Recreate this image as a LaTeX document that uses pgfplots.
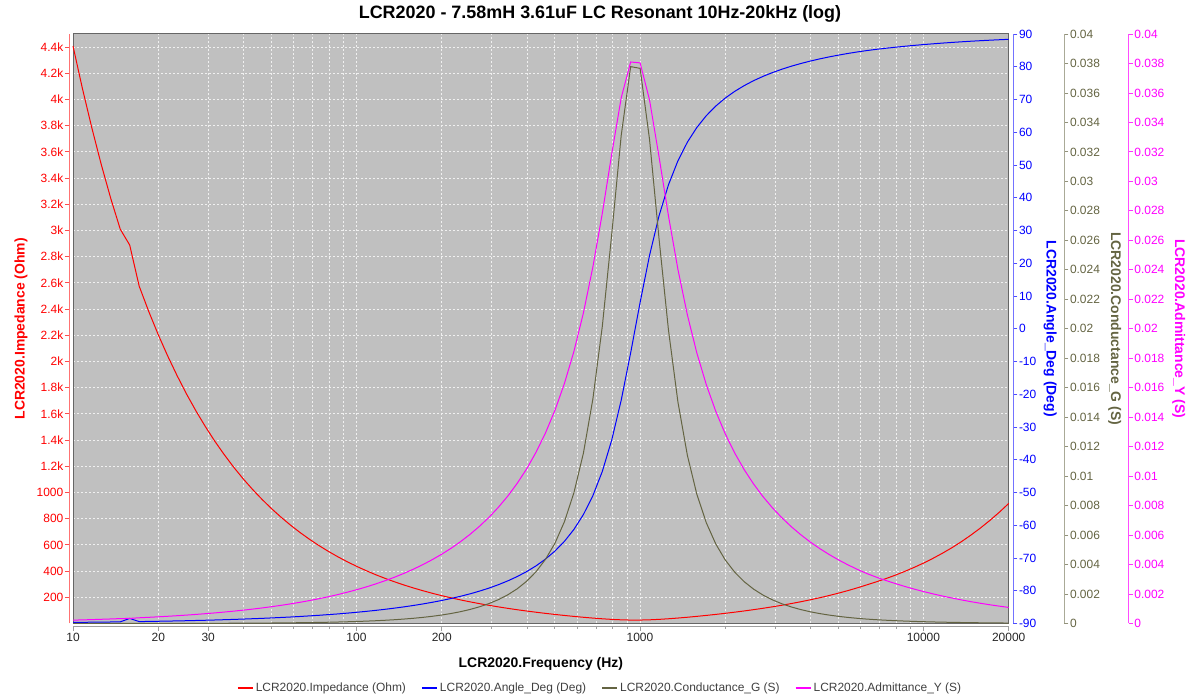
\documentclass[border=0pt]{standalone}
\usepackage{pgfplots}
\pgfplotsset{compat=1.18}
\usepackage{pgfplotstable}
\usepackage{fontspec}
\setmainfont{Liberation Sans}

\definecolor{zred}{RGB}{255,0,0}
\definecolor{ablue}{RGB}{0,0,255}
\definecolor{golive}{RGB}{100,100,66}
\definecolor{ymag}{RGB}{255,0,255}
\definecolor{plotbg}{RGB}{192,192,192}

\pgfplotstableread{
f Z A G Y
10 4408 -89.66 0.0000013 0.000227
10.80 4082 -89.63 0.0000016 0.000245
11.66 3781 -89.61 0.0000018 0.000264
12.59 3501 -89.57 0.0000021 0.000286
13.60 3242 -89.54 0.0000025 0.000308
14.68 3010 -89.50 0.0000029 0.000332
15.85 2889 -88.45 0.0000097 0.000346
17.12 2575 -89.42 0.0000039 0.000388
18.48 2385 -89.37 0.0000046 0.000419
19.96 2208 -89.32 0.0000053 0.000453
21.55 2045 -89.27 0.0000062 0.000489
23.27 1894 -89.21 0.0000073 0.000528
25.13 1753 -89.15 0.0000085 0.000570
27.13 1624 -89.08 0.0000099 0.000616
29.30 1503.5 -89.01 0.0000115 0.000665
31.63 1392.2 -88.93 0.0000134 0.000718
34.16 1289 -88.84 0.0000157 0.000776
36.88 1193.5 -88.75 0.0000183 0.000838
39.83 1105.0 -88.65 0.0000213 0.000905
43.01 1023 -88.54 0.0000249 0.000977
46.44 947.5 -88.43 0.0000290 0.001055
50.14 877.2 -88.30 0.0000338 0.001140
54.15 812.1 -88.16 0.0000395 0.001231
58.47 751.7 -88.02 0.0000461 0.001330
63.13 695.8 -87.86 0.0000538 0.001437
68.17 644.0 -87.68 0.0000628 0.001553
73.61 596.0 -87.50 0.0000733 0.001678
79.48 551.5 -87.29 0.0000856 0.001813
85.83 510.2 -87.08 0.0001000 0.001960
92.68 472.0 -86.84 0.0001168 0.002119
100.07 436.6 -86.58 0.0001366 0.002291
108.1 403.7 -86.30 0.0001597 0.002477
116.68 373.2 -86.00 0.0001869 0.002680
125.99 344.9 -85.67 0.0002188 0.002899
136.1 318.6 -85.31 0.0002564 0.003138
146.90 294.3 -84.93 0.0003006 0.003398
158.63 271.6 -84.50 0.0003528 0.003682
171.3 250.6 -84.04 0.0004145 0.003990
184.95 231.0 -83.53 0.0004877 0.004328
199.71 212.8 -82.98 0.0005746 0.004698
215.7 195.9 -82.36 0.0006782 0.005104
232.86 180.1 -81.69 0.0008022 0.005552
251.4 165.4 -80.95 0.0009513 0.006045
271.51 151.7 -80.12 0.0011311 0.006592
293.2 138.9 -79.20 0.0013496 0.007200
316.57 126.9 -78.16 0.0016167 0.007881
341.8 115.7 -76.99 0.0019456 0.008645
369.11 105.1 -75.67 0.0023551 0.009512
398.6 95.27 -74.14 0.0028682 0.010497
430.4 85.98 -72.38 0.0035215 0.011631
464.7 77.25 -70.31 0.0043617 0.012945
501.8 69.06 -67.85 0.0054586 0.014481
541.8 61.36 -64.90 0.0069148 0.016298
585.1 54.15 -61.27 0.0088767 0.018467
631.8 47.46 -56.74 0.011554 0.021069
682.2 41.35 -50.99 0.015223 0.024183
736.7 35.93 -43.57 0.020166 0.027833
795.4 31.39 -33.98 0.026418 0.031857
858.9 28.04 -21.82 0.033111 0.035666
927.5 26.25 -7.36 0.037787 0.038101
1001.4 26.29 8.03 0.037668 0.038040
1081.4 28.16 22.42 0.032832 0.035515
1167.6 31.56 34.44 0.026130 0.031683
1260.8 36.15 43.94 0.019922 0.027664
1361.4 41.61 51.27 0.015038 0.024035
1470.1 47.75 56.96 0.011418 0.020944
1587.4 54.46 61.44 0.0087782 0.018364
1714.0 61.67 65.04 0.0068435 0.016214
1850.8 69.40 67.97 0.0054054 0.014410
1998.5 77.62 70.41 0.0043206 0.012884
2158.0 86.37 72.46 0.0034897 0.011579
2330.2 95.67 74.21 0.0028440 0.010453
2516.2 105.6 75.73 0.0023352 0.0094714
2717.0 116.1 77.05 0.0019302 0.0086110
2933.9 127.4 78.21 0.0016040 0.0078500
3167.9 139.4 79.24 0.0013393 0.0071731
3420.7 152.3 80.16 0.0011226 0.0065673
3693.7 166.0 80.98 0.00094421 0.0060227
3988.5 180.8 81.72 0.00079634 0.0055310
4307.0 196.6 82.39 0.00067331 0.0050860
4650.4 213.6 83.00 0.00057051 0.0046816
5021.5 231.9 83.55 0.00048425 0.0043132
5422.3 251.5 84.06 0.00041162 0.0039766
5855.0 272.6 84.52 0.00035035 0.0036687
6322.5 295.3 84.94 0.0002985 0.0033864
6826.9 318.1 85.31 0.0002572 0.0031434
7371.5 342.6 85.64 0.0002218 0.0029190
7959.9 368.8 85.95 0.00019138 0.0027115
8595.2 397.6 86.25 0.00016466 0.0025152
9280.9 428.5 86.52 0.00014178 0.0023339
10021 461.7 86.77 0.00012212 0.0021660
10821 497.9 87.00 0.0001050 0.0020084
11685 536.9 87.22 0.0000903 0.0018627
12617 578.8 87.42 0.0000777 0.0017278
13624 625.0 87.61 0.0000666 0.0016001
14711 674.8 87.79 0.0000572 0.0014819
15885 728.5 87.95 0.0000490 0.0013726
17153 786.5 88.10 0.0000421 0.0012715
18522 849.0 88.24 0.0000361 0.0011778
20000 916.4 88.37 0.0000310 0.0010912
}\data

\tikzset{
  myticks/.style={font=\fontsize{12}{14}\selectfont},
  mylbl/.style={font=\bfseries\fontsize{14}{16}\selectfont},
}

\begin{document}
\begin{tikzpicture}
\path[use as bounding box] (0,0) rectangle (1200bp,700bp);

% main axis: background, grid, impedance
\begin{axis}[scale only axis, width=935.7bp, height=589.5bp,
  xmode=log, xmin=10, xmax=20000, at={(73bp,76.5bp)}, anchor=south west,
  ymin=0, ymax=4500, clip=false,
  axis background/.style={fill=plotbg},
  axis line style={draw=gray!80!black, line width=1bp},
  xtick={20,30,40,50,60,70,80,90,100,200,300,400,500,600,700,800,900,1000,2000,3000,4000,5000,6000,7000,8000,9000,10000},
  ytick={200,400,...,4400},
  xticklabels={}, yticklabels={},
  major tick length=0,
  grid=major,
  grid style={white!88!gray, dash pattern=on 2bp off 2bp, line width=0.8bp},
  title={LCR2020 - 7.58mH 3.61uF LC Resonant 10Hz-20kHz (log)},
  title style={at={(axis description cs:0.5632,1.0255)}, anchor=base, yshift=-6pt,
    font=\bfseries\fontsize{18}{21}\selectfont},
  xlabel={LCR2020.Frequency (Hz)},
  xlabel style={at={(axis description cs:0.5,-0.0738)}, anchor=base, mylbl},
  legend columns=4,
  legend style={draw=none, fill=none, text=black!75,
    font=\fontsize{12}{14}\selectfont,
    at={(axis description cs:0.5632,-0.1094)}, anchor=center,
    /tikz/every even column/.append style={column sep=13bp}},
  legend image code/.code={\draw[#1, line width=2bp] (0bp,0bp) -- (15bp,0bp);},
]
\addplot[zred, line width=1bp] table[x=f, y=Z]{\data};
\addlegendentry{LCR2020.Impedance (Ohm)}
\addlegendimage{ablue, line width=1bp}
\addlegendentry{LCR2020.Angle\_Deg (Deg)}
\addlegendimage{golive, line width=1bp}
\addlegendentry{LCR2020.Conductance\_G (S)}
\addlegendimage{ymag, line width=1bp}
\addlegendentry{LCR2020.Admittance\_Y (S)}
\node[rotate=90, mylbl, text=zred] at (axis description cs:-0.0556,0.5) {LCR2020.Impedance (Ohm)};
\node[rotate=-90, mylbl, text=ablue] at (axis description cs:1.0442,0.5) {LCR2020.Angle\_Deg (Deg)};
\node[rotate=-90, mylbl, text=golive] at (axis description cs:1.1133,0.5) {LCR2020.Conductance\_G (S)};
\node[rotate=-90, mylbl, text=ymag] at (axis description cs:1.1816,0.5) {LCR2020.Admittance\_Y (S)};
\end{axis}

% angle overlay
\begin{axis}[scale only axis, width=935.7bp, height=589.5bp,
  xmode=log, xmin=10, xmax=20000, at={(73bp,76.5bp)}, anchor=south west,
  ymin=-90, ymax=90, hide axis]
\addplot[ablue, line width=1bp] table[x=f, y=A]{\data};
\end{axis}

% conductance / admittance overlay
\begin{axis}[scale only axis, width=935.7bp, height=589.5bp,
  xmode=log, xmin=10, xmax=20000, at={(73bp,76.5bp)}, anchor=south west,
  ymin=0, ymax=0.04, hide axis]
\addplot[golive, line width=1bp] table[x=f, y=G]{\data};
\addplot[ymag, line width=1bp] table[x=f, y=Y]{\data};
\end{axis}

% x axis (ticks and labels)
\begin{axis}[scale only axis, width=935.7bp, height=10bp,
  at={(73bp,73.3bp)}, anchor=south west,
  xmode=log, xmin=10, xmax=20000, ymin=0, ymax=1,
  axis x line*=bottom, axis y line=none, ytick=\empty,
  x axis line style={draw=gray!75, line width=1bp},
  xtick={10,20,30,100,200,1000,10000,20000},
  xticklabels={10,20,30,100,200,1000,10000,20000},
  minor xtick={40,50,60,70,80,90,300,400,500,600,700,800,900,2000,3000,4000,5000,6000,7000,8000,9000},
  tick align=outside, major tick length=4bp, minor tick length=2bp,
  x tick style={draw=gray!75, line width=0.8bp},
  xticklabel style={myticks, text=black!85, inner sep=2bp},
]
\end{axis}

% impedance y axis
\begin{axis}[scale only axis, width=10bp, height=589.5bp,
  xmin=0, xmax=1, axis x line=none, xtick=\empty,
  tick align=outside, major tick length=4bp,
  at={(69bp,76.5bp)}, anchor=south west,
  ymin=0, ymax=4500, axis y line*=left,
  y axis line style={draw=zred!55, line width=1bp},
  ytick={200,400,...,4400},
  yticklabels={200,400,600,800,1000,1.2k,1.4k,1.6k,1.8k,2k,2.2k,2.4k,2.6k,2.8k,3k,3.2k,3.4k,3.6k,3.8k,4k,4.2k,4.4k},
  y tick style={draw=zred!70, line width=0.8bp},
  yticklabel style={myticks, inner sep=1.5bp, text=zred},
]
\end{axis}

% angle y axis
\begin{axis}[scale only axis, width=10bp, height=589.5bp,
  xmin=0, xmax=1, axis x line=none, xtick=\empty,
  tick align=outside, major tick length=4bp,
  at={(1013.3bp,76.5bp)}, anchor=south east,
  ymin=-90, ymax=90, axis y line*=right,
  y axis line style={draw=ablue!55, line width=1bp},
  ytick={-90,-80,-70,-60,-50,-40,-30,-20,-10,0,10,20,30,40,50,60,70,80,90},
  yticklabels={-90,-80,-70,-60,-50,-40,-30,-20,-10,0,10,20,30,40,50,60,70,80,90},
  y tick style={draw=ablue!70, line width=0.8bp},
  yticklabel style={myticks, inner sep=1.5bp, text=ablue},
]
\end{axis}

% conductance y axis
\begin{axis}[scale only axis, width=10bp, height=589.5bp,
  xmin=0, xmax=1, axis x line=none, xtick=\empty,
  tick align=outside, major tick length=4bp,
  at={(1064.3bp,76.5bp)}, anchor=south east,
  ymin=0, ymax=0.04, axis y line*=right, scaled y ticks=false,
  y axis line style={draw=golive!55, line width=1bp},
  ytick={0,0.002,0.004,0.006,0.008,0.01,0.012,0.014,0.016,0.018,0.02,0.022,0.024,0.026,0.028,0.03,0.032,0.034,0.036,0.038,0.04},
  yticklabels={0,0.002,0.004,0.006,0.008,0.01,0.012,0.014,0.016,0.018,0.02,0.022,0.024,0.026,0.028,0.03,0.032,0.034,0.036,0.038,0.04},
  y tick style={draw=golive!70, line width=0.8bp},
  yticklabel style={myticks, inner sep=1.5bp, text=golive},
]
\end{axis}

% admittance y axis
\begin{axis}[scale only axis, width=10bp, height=589.5bp,
  xmin=0, xmax=1, axis x line=none, xtick=\empty,
  tick align=outside, major tick length=4bp,
  at={(1128.7bp,76.5bp)}, anchor=south east,
  ymin=0, ymax=0.04, axis y line*=right, scaled y ticks=false,
  y axis line style={draw=ymag!70, line width=1bp},
  ytick={0,0.002,0.004,0.006,0.008,0.01,0.012,0.014,0.016,0.018,0.02,0.022,0.024,0.026,0.028,0.03,0.032,0.034,0.036,0.038,0.04},
  yticklabels={0,0.002,0.004,0.006,0.008,0.01,0.012,0.014,0.016,0.018,0.02,0.022,0.024,0.026,0.028,0.03,0.032,0.034,0.036,0.038,0.04},
  y tick style={draw=ymag!80, line width=0.8bp},
  yticklabel style={myticks, inner sep=1.5bp, text=ymag},
]
\end{axis}

\end{tikzpicture}
\end{document}
